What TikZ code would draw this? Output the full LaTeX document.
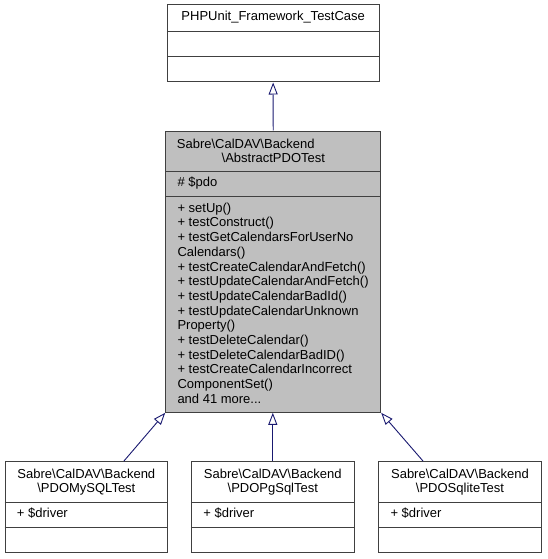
\documentclass[tikz,border=0pt]{standalone}
\usepackage{fontspec}
\setmainfont{Liberation Sans}
\usetikzlibrary{arrows.meta,calc}
\definecolor{edgeblue}{HTML}{191970}
\definecolor{boxline}{HTML}{404040}
\definecolor{focusfill}{HTML}{BFBFBF}
\tikzset{
  classbox/.style={draw=boxline, line width=1pt, inner sep=0pt, minimum width=#1},
  sepline/.style={draw=boxline, line width=1pt},
  txt/.style={inner sep=0pt, font=\fontsize{13}{14.7}\selectfont},
  ttl/.style={txt, anchor=base},
  mem/.style={txt, anchor=base west},
  inherit/.style={draw=edgeblue, line width=0.9pt, -{Triangle[open, length=12pt, width=9pt, fill=white]}}
}
\newcommand{\bs}{\textbackslash}
\begin{document}
\begin{tikzpicture}[x=1pt,y=-1pt]
\useasboundingbox (0,0) rectangle (547,559);
% top base class
\node[classbox=211.7pt, minimum height=77pt] (base) at (273.15,43.5) {};
\draw[sepline] (base.west |- 0,32) -- (base.east |- 0,32);
\draw[sepline] (base.west |- 0,57) -- (base.east |- 0,57);
\node[ttl] (baset) at (273.2,21) {PHPUnit\_Framework\_TestCase};
% main class
\node[classbox=215pt, minimum height=281.3pt, fill=focusfill] (main) at (273.2,271.65) {};
\draw[sepline] (main.west |- 0,171.7) -- (main.east |- 0,171.7);
\draw[sepline] (main.west |- 0,196.7) -- (main.east |- 0,196.7);
\node[mem] (maint1) at (176.7,148.3) {Sabre\bs CalDAV\bs Backend};
\node[ttl] (maint2) at (273.3,162.5) {\bs AbstractPDOTest};
\node[mem] (mainattr) at (177.3,186.7) {\# \$pdo};
\foreach \t [count=\i from 0] in {%
  + setUp(),
  + testConstruct(),
  + testGetCalendarsForUserNo,
  Calendars(),
  + testCreateCalendarAndFetch(),
  + testUpdateCalendarAndFetch(),
  + testUpdateCalendarBadId(),
  + testUpdateCalendarUnknown,
  Property(),
  + testDeleteCalendar(),
  + testDeleteCalendarBadID(),
  + testCreateCalendarIncorrect,
  ComponentSet(),
  and 41 more.{}.{}.}
  \node[mem] (mainm\i) at (177.3,212.3+14.69*\i) {\t};
% derived classes
\foreach \n/\cx/\lbl in {mysql/86.35/PDOMySQLTest, pgsql/272.8/PDOPgSqlTest, sqlite/460/PDOSqliteTest}{
  \node[classbox=162.7pt, minimum height=91pt] (\n) at (\cx,507.2) {};
  \draw[sepline] (\n.west |- 0,502.7) -- (\n.east |- 0,502.7);
  \draw[sepline] (\n.west |- 0,527) -- (\n.east |- 0,527);
  \node[ttl] (\n t1) at (\cx,478.3) {Sabre\bs CalDAV\bs Backend};
  \node[ttl] (\n t2) at (\cx,492.7) {\bs\lbl};
  \node[mem] (\n a) at (\cx-69.65,517.3) {+ \$driver};
}
% inheritance connectors
\coordinate (mysqltail) at ($(mysql.north east)+(-44.4,0)$);
\coordinate (sqlitetail) at ($(sqlite.north west)+(45,0)$);
\draw[inherit] (main.north) -- (base.south);
\draw[inherit] (mysqltail) -- (main.south west);
\draw[inherit] (pgsql.north) -- (main.south -| pgsql.north);
\draw[inherit] (sqlitetail) -- (main.south east);
\end{tikzpicture}
\end{document}
